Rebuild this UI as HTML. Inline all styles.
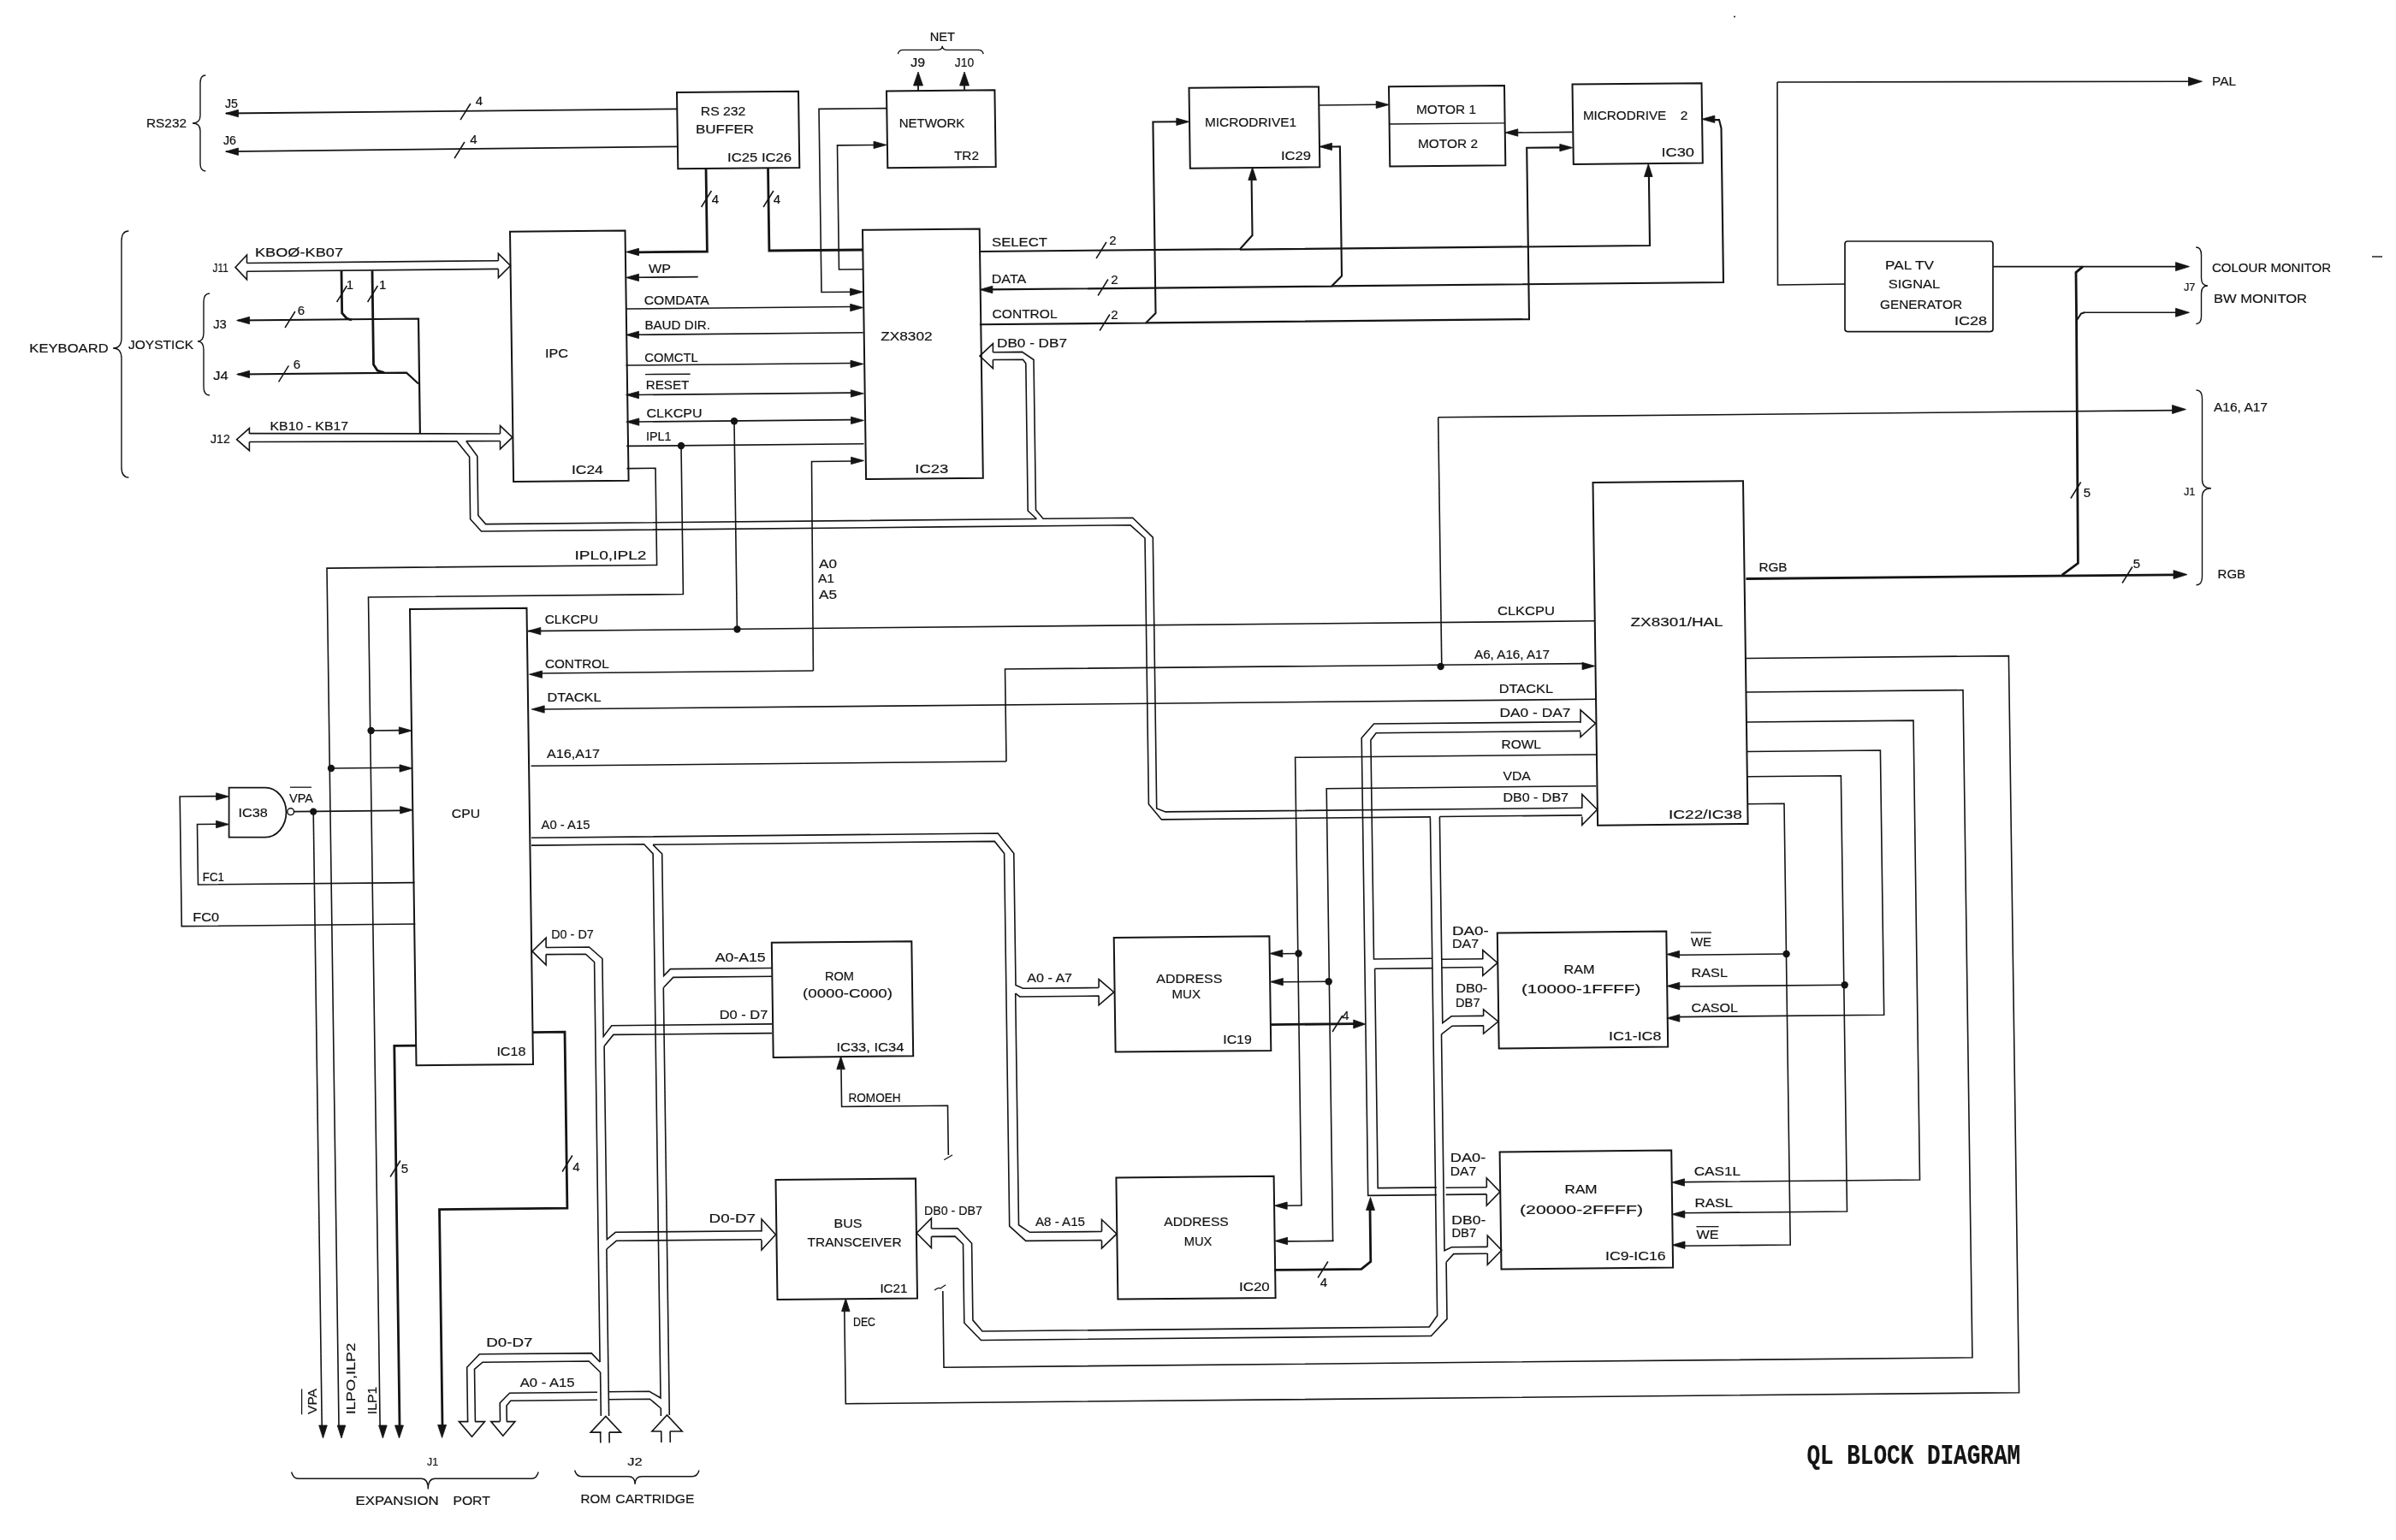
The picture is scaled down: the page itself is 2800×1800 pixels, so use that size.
<!DOCTYPE html>
<html><head><meta charset="utf-8"><title>QL Block Diagram</title>
<style>
html,body{margin:0;padding:0;background:#fff;}
body{width:2800px;height:1800px;overflow:hidden;}
svg{display:block;}
text{font-family:"Liberation Sans",sans-serif;fill:#141414;stroke:#141414;stroke-width:0.2px;}
svg{will-change:transform;}
</style></head><body>
<svg width="2800" height="1800" viewBox="0 0 2800 1800">
<rect width="2800" height="1800" fill="#fff"/>
<path d="M240.3,88 Q234,88 234,97 L234,135 Q234,144 225,144 Q234,144 234,153 L234,191 Q234,200 240.3,200" fill="none" stroke="#141414" stroke-width="1.4"/>
<text x="194.5" y="149.2" font-size="15" text-anchor="middle" textLength="47" lengthAdjust="spacingAndGlyphs">RS232</text>
<text x="270.5" y="126.3" font-size="15.5" text-anchor="middle" textLength="15" lengthAdjust="spacingAndGlyphs">J5</text>
<text x="268.5" y="168.9" font-size="15.5" text-anchor="middle" textLength="15" lengthAdjust="spacingAndGlyphs">J6</text>
<polyline points="264,132.5 791,127.3" fill="none" stroke="#141414" stroke-width="1.8" stroke-linejoin="miter"/>
<polygon points="263.5,132.5 278.5,128.3 278.5,136.7" fill="#141414" stroke="#141414" stroke-width="0.8"/>
<polyline points="264,177.2 791,171.3" fill="none" stroke="#141414" stroke-width="1.8" stroke-linejoin="miter"/>
<polygon points="263.5,177.2 278.5,173 278.5,181.4" fill="#141414" stroke="#141414" stroke-width="0.8"/>
<polyline points="538.1,140 549.9,121" fill="none" stroke="#141414" stroke-width="1.5" stroke-linejoin="miter"/>
<text x="560" y="122.7" font-size="15" text-anchor="middle">4</text>
<polyline points="531.1,185 542.9,166" fill="none" stroke="#141414" stroke-width="1.5" stroke-linejoin="miter"/>
<text x="553.5" y="168.2" font-size="15" text-anchor="middle">4</text>
<path d="M150.4,270 Q142,270 142,282 L142,395 Q142,407 132,407 Q142,407 142,419 L142,546 Q142,558 150.4,558" fill="none" stroke="#141414" stroke-width="1.4"/>
<text x="80.5" y="412.3" font-size="15.5" text-anchor="middle" textLength="92.3" lengthAdjust="spacingAndGlyphs">KEYBOARD</text>
<path d="M245,343 Q238,343 238,353 L238,389 Q238,399 231,399 Q238,399 238,409 L238,452 Q238,462 245,462" fill="none" stroke="#141414" stroke-width="1.4"/>
<text x="188" y="408.3" font-size="15.5" text-anchor="middle" textLength="76" lengthAdjust="spacingAndGlyphs">JOYSTICK</text>
<text x="257.7" y="318.3" font-size="15.5" text-anchor="middle" textLength="18.3" lengthAdjust="spacingAndGlyphs">J11</text>
<text x="349.5" y="299.8" font-size="15.5" text-anchor="middle" textLength="103" lengthAdjust="spacingAndGlyphs">KBOØ-KB07</text>
<polyline points="288.5,307.5 582.4,304.7" fill="none" stroke="#141414" stroke-width="1.6" stroke-linejoin="miter"/>
<polyline points="288.5,317.2 582.4,314.4" fill="none" stroke="#141414" stroke-width="1.6" stroke-linejoin="miter"/>
<polyline points="288.5,307.5 288.5,298 275,312.4 288.5,326.7 288.5,317.2" fill="none" stroke="#141414" stroke-width="1.6" stroke-linejoin="miter"/>
<polyline points="582.4,304.7 582.4,296.5 596.5,310.5 582.4,324.5 582.4,314.4" fill="none" stroke="#141414" stroke-width="1.6" stroke-linejoin="miter"/>
<polyline points="399,317 399.7,366 405,372 411,374" fill="none" stroke="#141414" stroke-width="2.8" stroke-linejoin="miter"/>
<polyline points="393.6,353 405.4,334" fill="none" stroke="#141414" stroke-width="1.5" stroke-linejoin="miter"/>
<text x="409" y="338.2" font-size="15" text-anchor="middle">1</text>
<polyline points="435,316.5 436.5,426 441,433 449,435.5" fill="none" stroke="#141414" stroke-width="2.8" stroke-linejoin="miter"/>
<polyline points="429.6,353 441.4,334" fill="none" stroke="#141414" stroke-width="1.5" stroke-linejoin="miter"/>
<text x="447.2" y="338.2" font-size="15" text-anchor="middle">1</text>
<text x="257" y="383.8" font-size="15.5" text-anchor="middle" textLength="15.6" lengthAdjust="spacingAndGlyphs">J3</text>
<text x="258" y="443.5" font-size="15.5" text-anchor="middle" textLength="17.5" lengthAdjust="spacingAndGlyphs">J4</text>
<polyline points="278,374.5 489,372.5 490.9,507" fill="none" stroke="#141414" stroke-width="2.2" stroke-linejoin="miter"/>
<polygon points="276.6,374.5 291.6,370.3 291.6,378.7" fill="#141414" stroke="#141414" stroke-width="0.8"/>
<polyline points="278,437.5 475,435.6 489,448.5" fill="none" stroke="#141414" stroke-width="2.2" stroke-linejoin="miter"/>
<polygon points="276.6,437.5 291.6,433.3 291.6,441.7" fill="#141414" stroke="#141414" stroke-width="0.8"/>
<polyline points="333.1,383 344.9,364" fill="none" stroke="#141414" stroke-width="1.5" stroke-linejoin="miter"/>
<text x="352" y="368.1" font-size="15" text-anchor="middle">6</text>
<polyline points="325.6,446.3 337.4,427.3" fill="none" stroke="#141414" stroke-width="1.5" stroke-linejoin="miter"/>
<text x="347" y="430.6" font-size="15" text-anchor="middle">6</text>
<text x="257.4" y="517.6" font-size="15.5" text-anchor="middle" textLength="22.8" lengthAdjust="spacingAndGlyphs">J12</text>
<text x="361.3" y="502.8" font-size="15.5" text-anchor="middle" textLength="91.5" lengthAdjust="spacingAndGlyphs">KB10 - KB17</text>
<polyline points="291.4,506.6 584.5,507" fill="none" stroke="#141414" stroke-width="1.6" stroke-linejoin="miter"/>
<polyline points="291.4,516.5 533.8,515.8 548.6,534 549.6,606.7 562.5,621 1100,615.9 1321,613.8 1338,629 1342.4,940 1357.4,957.9 1672,954.9" fill="none" stroke="#141414" stroke-width="1.6" stroke-linejoin="miter"/>
<polyline points="544.8,515.6 584.5,515.5" fill="none" stroke="#141414" stroke-width="1.6" stroke-linejoin="miter"/>
<polyline points="544.8,515.6 557.8,533.2 558.8,602.5 567.6,612.6 1211.4,606.5" fill="none" stroke="#141414" stroke-width="1.6" stroke-linejoin="miter"/>
<polyline points="291.4,507 291.4,500.6 276.6,513.7 291.4,526.7 291.4,516.5" fill="none" stroke="#141414" stroke-width="1.6" stroke-linejoin="miter"/>
<polyline points="584.5,507 584.5,497.7 598.8,511.2 584.5,524.8 584.5,515.5" fill="none" stroke="#141414" stroke-width="1.6" stroke-linejoin="miter"/>
<polygon points="596,270.7 730.5,269.4 734.6,561.7 600.1,563" fill="none" stroke="#141414" stroke-width="2" stroke-linejoin="miter"/>
<text x="650.5" y="418.3" font-size="15.5" text-anchor="middle" textLength="27" lengthAdjust="spacingAndGlyphs">IPC</text>
<text x="686.4" y="554.3" font-size="15.5" text-anchor="middle" textLength="36.7" lengthAdjust="spacingAndGlyphs">IC24</text>
<polygon points="791,108 933,106.7 934.3,196 792.3,197.3" fill="none" stroke="#141414" stroke-width="2" stroke-linejoin="miter"/>
<text x="845.1" y="135.4" font-size="15.5" text-anchor="middle" textLength="52.6" lengthAdjust="spacingAndGlyphs">RS 232</text>
<text x="847" y="156.3" font-size="15.5" text-anchor="middle" textLength="68" lengthAdjust="spacingAndGlyphs">BUFFER</text>
<text x="887.6" y="188.8" font-size="15.5" text-anchor="middle" textLength="75" lengthAdjust="spacingAndGlyphs">IC25 IC26</text>
<polyline points="825,196 826.4,294 745,294.8" fill="none" stroke="#141414" stroke-width="2.8" stroke-linejoin="miter"/>
<polygon points="731.5,294.5 746.5,290.3 746.5,298.7" fill="#141414" stroke="#141414" stroke-width="0.8"/>
<polyline points="819.6,242 831.4,223" fill="none" stroke="#141414" stroke-width="1.5" stroke-linejoin="miter"/>
<text x="836" y="238.4" font-size="15" text-anchor="middle">4</text>
<polyline points="897.5,196 898.9,293 1008.5,292" fill="none" stroke="#141414" stroke-width="2.8" stroke-linejoin="miter"/>
<polyline points="892.1,242 903.9,223" fill="none" stroke="#141414" stroke-width="1.5" stroke-linejoin="miter"/>
<text x="907.8" y="238.4" font-size="15" text-anchor="middle">4</text>
<polygon points="1036,106.4 1162.4,105.2 1163.7,195 1037.3,196.2" fill="none" stroke="#141414" stroke-width="2" stroke-linejoin="miter"/>
<text x="1089" y="148.9" font-size="15.5" text-anchor="middle" textLength="76.7" lengthAdjust="spacingAndGlyphs">NETWORK</text>
<text x="1129.5" y="186.8" font-size="15.5" text-anchor="middle" textLength="29" lengthAdjust="spacingAndGlyphs">TR2</text>
<polyline points="1073,106 1073,95" fill="none" stroke="#141414" stroke-width="1.8" stroke-linejoin="miter"/>
<polygon points="1073,84 1067.5,100 1078.5,100" fill="#141414" stroke="#141414" stroke-width="0.8"/>
<polyline points="1127,106 1127,95" fill="none" stroke="#141414" stroke-width="1.8" stroke-linejoin="miter"/>
<polygon points="1127,84 1121.5,100 1132.5,100" fill="#141414" stroke="#141414" stroke-width="0.8"/>
<text x="1072.6" y="78" font-size="14" text-anchor="middle" textLength="16.8" lengthAdjust="spacingAndGlyphs">J9</text>
<text x="1127" y="78" font-size="14" text-anchor="middle" textLength="22.3" lengthAdjust="spacingAndGlyphs">J10</text>
<path d="M1049.4,63.1 Q1050.4,58.4 1055.4,58.4 L1095.2,58.4 Q1101.2,58.4 1101.2,53.8 Q1101.2,58.4 1107.2,58.4 L1143.2,58.4 Q1148.2,58.4 1149.2,63.1" fill="none" stroke="#141414" stroke-width="1.4"/>
<text x="1101.4" y="47.6" font-size="14" text-anchor="middle" textLength="29.2" lengthAdjust="spacingAndGlyphs">NET</text>
<polyline points="1036,126.6 957,127.4 960,341.5 995,341.2" fill="none" stroke="#141414" stroke-width="1.6" stroke-linejoin="miter"/>
<polygon points="1008.5,341.2 993.5,337 993.5,345.4" fill="#141414" stroke="#141414" stroke-width="0.8"/>
<polyline points="1024,169.5 978.5,169.9 980.5,315 1008.5,314.7" fill="none" stroke="#141414" stroke-width="1.6" stroke-linejoin="miter"/>
<polygon points="1036,169.4 1021,165.2 1021,173.6" fill="#141414" stroke="#141414" stroke-width="0.8"/>
<polygon points="1008,268.8 1144.7,267.5 1148.8,558.8 1012.1,560.1" fill="none" stroke="#141414" stroke-width="2" stroke-linejoin="miter"/>
<text x="1059.4" y="397.6" font-size="15.5" text-anchor="middle" textLength="60.4" lengthAdjust="spacingAndGlyphs">ZX8302</text>
<text x="1088.8" y="553.4" font-size="15.5" text-anchor="middle" textLength="39" lengthAdjust="spacingAndGlyphs">IC23</text>
<polyline points="745,324.3 815.7,323.6" fill="none" stroke="#141414" stroke-width="1.6" stroke-linejoin="miter"/>
<polygon points="731.5,324.4 746.5,320.2 746.5,328.6" fill="#141414" stroke="#141414" stroke-width="0.8"/>
<text x="771" y="318.8" font-size="15.5" text-anchor="middle" textLength="26" lengthAdjust="spacingAndGlyphs">WP</text>
<polyline points="731.5,361 995,358.5" fill="none" stroke="#141414" stroke-width="1.6" stroke-linejoin="miter"/>
<polygon points="1008.7,359.5 993.7,355.3 993.7,363.7" fill="#141414" stroke="#141414" stroke-width="0.8"/>
<text x="790.7" y="355.6" font-size="15.5" text-anchor="middle" textLength="76" lengthAdjust="spacingAndGlyphs">COMDATA</text>
<polyline points="745,391.3 1008.7,388.8" fill="none" stroke="#141414" stroke-width="1.6" stroke-linejoin="miter"/>
<polygon points="731.5,391.4 746.5,387.2 746.5,395.6" fill="#141414" stroke="#141414" stroke-width="0.8"/>
<text x="791.7" y="384.8" font-size="15.5" text-anchor="middle" textLength="76.6" lengthAdjust="spacingAndGlyphs">BAUD DIR.</text>
<polyline points="731.5,427 995,424.5" fill="none" stroke="#141414" stroke-width="1.6" stroke-linejoin="miter"/>
<polygon points="1009,425.4 994,421.2 994,429.6" fill="#141414" stroke="#141414" stroke-width="0.8"/>
<text x="784.5" y="422.7" font-size="15.5" text-anchor="middle" textLength="62.3" lengthAdjust="spacingAndGlyphs">COMCTL</text>
<polyline points="745,461.5 995,459.1" fill="none" stroke="#141414" stroke-width="1.6" stroke-linejoin="miter"/>
<polygon points="731.5,461.6 746.5,457.4 746.5,465.8" fill="#141414" stroke="#141414" stroke-width="0.8"/>
<polygon points="1009.3,459.9 994.3,455.7 994.3,464.1" fill="#141414" stroke="#141414" stroke-width="0.8"/>
<text x="780" y="454.7" font-size="15.5" text-anchor="middle" textLength="50.6" lengthAdjust="spacingAndGlyphs">RESET</text>
<polyline points="754,437.6 806.6,437.2" fill="none" stroke="#141414" stroke-width="1.4" stroke-linejoin="miter"/>
<polyline points="745,493 995,490.6" fill="none" stroke="#141414" stroke-width="1.6" stroke-linejoin="miter"/>
<polygon points="731.8,493.1 746.8,488.9 746.8,497.3" fill="#141414" stroke="#141414" stroke-width="0.8"/>
<polygon points="1009.5,491.4 994.5,487.2 994.5,495.6" fill="#141414" stroke="#141414" stroke-width="0.8"/>
<text x="788" y="488.3" font-size="15.5" text-anchor="middle" textLength="65" lengthAdjust="spacingAndGlyphs">CLKCPU</text>
<circle cx="858" cy="492.2" r="4.2" fill="#141414"/>
<polyline points="732.2,521.4 1009.5,518.8" fill="none" stroke="#141414" stroke-width="1.6" stroke-linejoin="miter"/>
<text x="769.8" y="514.9" font-size="15.5" text-anchor="middle" textLength="29.6" lengthAdjust="spacingAndGlyphs">IPL1</text>
<circle cx="796" cy="521" r="4.2" fill="#141414"/>
<polyline points="950.4,784 948.5,539.5 996,539" fill="none" stroke="#141414" stroke-width="1.6" stroke-linejoin="miter"/>
<polygon points="1009.6,538.4 994.6,534.2 994.6,542.6" fill="#141414" stroke="#141414" stroke-width="0.8"/>
<polyline points="732.5,547.6 766,547.3 767.6,660.4 382,664.1 396,1666" fill="none" stroke="#141414" stroke-width="1.6" stroke-linejoin="miter"/>
<polygon points="399,1681 394.2,1666 403.8,1666" fill="#141414" stroke="#141414" stroke-width="0.8"/>
<text x="713.5" y="653.8" font-size="15.5" text-anchor="middle" textLength="84" lengthAdjust="spacingAndGlyphs">IPL0,IPL2</text>
<polyline points="796,521 798.4,694.5 430.5,698 444.1,1666" fill="none" stroke="#141414" stroke-width="1.6" stroke-linejoin="miter"/>
<polygon points="447.4,1681 442.6,1666 452.2,1666" fill="#141414" stroke="#141414" stroke-width="0.8"/>
<polyline points="858,492.2 861.4,735.5" fill="none" stroke="#141414" stroke-width="1.6" stroke-linejoin="miter"/>
<circle cx="861.5" cy="735.5" r="4.2" fill="#141414"/>
<polyline points="1144.7,294 1449,291.1 1463.5,275 1462.6,210" fill="none" stroke="#141414" stroke-width="2.1" stroke-linejoin="miter"/>
<polygon points="1463.6,195.5 1458.8,210.5 1468.4,210.5" fill="#141414" stroke="#141414" stroke-width="0.8"/>
<polyline points="1449,291.6 1928,287 1926.9,206" fill="none" stroke="#141414" stroke-width="2.1" stroke-linejoin="miter"/>
<polygon points="1926.3,191.5 1921.5,206.5 1931.1,206.5" fill="#141414" stroke="#141414" stroke-width="0.8"/>
<text x="1191.5" y="288.3" font-size="15.5" text-anchor="middle" textLength="65" lengthAdjust="spacingAndGlyphs">SELECT</text>
<polyline points="1281.1,302 1292.9,283" fill="none" stroke="#141414" stroke-width="1.5" stroke-linejoin="miter"/>
<text x="1300.5" y="286.2" font-size="15" text-anchor="middle">2</text>
<polyline points="1158,338.4 1556,334.6 1568,322.5 1565.9,171.4 1555,171.5" fill="none" stroke="#141414" stroke-width="2.1" stroke-linejoin="miter"/>
<polygon points="1541.5,171.4 1556.5,167.2 1556.5,175.6" fill="#141414" stroke="#141414" stroke-width="0.8"/>
<polygon points="1144.9,338.5 1159.9,334.3 1159.9,342.7" fill="#141414" stroke="#141414" stroke-width="0.8"/>
<polyline points="1556,334.4 2014,330 2011.5,150 2009,140 2002,140.1" fill="none" stroke="#141414" stroke-width="2.1" stroke-linejoin="miter"/>
<polygon points="1988.8,139.3 2003.8,135.1 2003.8,143.5" fill="#141414" stroke="#141414" stroke-width="0.8"/>
<text x="1179" y="331.3" font-size="15.5" text-anchor="middle" textLength="40.5" lengthAdjust="spacingAndGlyphs">DATA</text>
<polyline points="1283.1,345.5 1294.9,326.5" fill="none" stroke="#141414" stroke-width="1.5" stroke-linejoin="miter"/>
<text x="1302.5" y="332.2" font-size="15" text-anchor="middle">2</text>
<polyline points="1144.8,379.3 1339,377.5 1350.5,366 1347.4,142.5 1376,142.2" fill="none" stroke="#141414" stroke-width="2.1" stroke-linejoin="miter"/>
<polygon points="1389.8,142.3 1374.8,138.1 1374.8,146.5" fill="#141414" stroke="#141414" stroke-width="0.8"/>
<polyline points="1339,377.4 1787,373.1 1784.2,172.8 1824,172.4" fill="none" stroke="#141414" stroke-width="2.1" stroke-linejoin="miter"/>
<polygon points="1837.8,172.6 1822.8,168.4 1822.8,176.8" fill="#141414" stroke="#141414" stroke-width="0.8"/>
<text x="1197.6" y="372.3" font-size="15.5" text-anchor="middle" textLength="76" lengthAdjust="spacingAndGlyphs">CONTROL</text>
<polyline points="1285.1,386.5 1296.9,367.5" fill="none" stroke="#141414" stroke-width="1.5" stroke-linejoin="miter"/>
<text x="1302.5" y="373.2" font-size="15" text-anchor="middle">2</text>
<polyline points="1160.4,411.7 1160.4,401.6 1145,416.1 1160.4,430.6 1160.4,420.5" fill="none" stroke="#141414" stroke-width="1.6" stroke-linejoin="miter"/>
<polyline points="1160.4,411.7 1194.5,411.4 1208,420.5 1210.5,596 1219,606.2 1323.7,605.2 1347.3,628.2 1351.7,945 1362,948.9 1848.8,944.3" fill="none" stroke="#141414" stroke-width="1.6" stroke-linejoin="miter"/>
<polyline points="1160.4,420.5 1195.4,420.2 1198.8,424.7 1201.2,597 1211.4,606.5" fill="none" stroke="#141414" stroke-width="1.6" stroke-linejoin="miter"/>
<text x="1206" y="406.3" font-size="15.5" text-anchor="middle" textLength="82" lengthAdjust="spacingAndGlyphs">DB0 - DB7</text>
<polygon points="1389.5,102.8 1541,101.4 1542.3,195.3 1390.8,196.7" fill="none" stroke="#141414" stroke-width="2" stroke-linejoin="miter"/>
<text x="1461.5" y="148.3" font-size="15.5" text-anchor="middle" textLength="107" lengthAdjust="spacingAndGlyphs">MICRODRIVE1</text>
<text x="1514.5" y="187.3" font-size="15.5" text-anchor="middle" textLength="35" lengthAdjust="spacingAndGlyphs">IC29</text>
<polyline points="1541,123 1610,122.3" fill="none" stroke="#141414" stroke-width="1.6" stroke-linejoin="miter"/>
<polygon points="1623.2,122.4 1608.2,118.2 1608.2,126.6" fill="#141414" stroke="#141414" stroke-width="0.8"/>
<polygon points="1623,101.2 1758,99.9 1759.3,193.2 1624.3,194.5" fill="none" stroke="#141414" stroke-width="2" stroke-linejoin="miter"/>
<polyline points="1623.7,145 1758.6,143.9" fill="none" stroke="#141414" stroke-width="1.4" stroke-linejoin="miter"/>
<text x="1690" y="133.3" font-size="15.5" text-anchor="middle" textLength="70" lengthAdjust="spacingAndGlyphs">MOTOR 1</text>
<text x="1692" y="172.8" font-size="15.5" text-anchor="middle" textLength="70" lengthAdjust="spacingAndGlyphs">MOTOR 2</text>
<polyline points="1837.5,154.4 1771,155" fill="none" stroke="#141414" stroke-width="1.6" stroke-linejoin="miter"/>
<polygon points="1758.8,155 1773.8,150.8 1773.8,159.2" fill="#141414" stroke="#141414" stroke-width="0.8"/>
<polygon points="1837.5,98.6 1988.5,97.2 1989.8,190.6 1838.8,192" fill="none" stroke="#141414" stroke-width="2" stroke-linejoin="miter"/>
<text x="1898.6" y="140.3" font-size="15.5" text-anchor="middle" textLength="97.3" lengthAdjust="spacingAndGlyphs">MICRODRIVE</text>
<text x="1968" y="140.3" font-size="15.5" text-anchor="middle">2</text>
<text x="1960.7" y="183.3" font-size="15.5" text-anchor="middle" textLength="38.5" lengthAdjust="spacingAndGlyphs">IC30</text>
<polyline points="2077,96 2558,95.2" fill="none" stroke="#141414" stroke-width="1.6" stroke-linejoin="miter"/>
<polygon points="2573.5,95.2 2557.5,90.2 2557.5,100.2" fill="#141414" stroke="#141414" stroke-width="0.8"/>
<polyline points="2077,96 2077.5,333 2156,332" fill="none" stroke="#141414" stroke-width="1.6" stroke-linejoin="miter"/>
<text x="2599" y="100.3" font-size="15.5" text-anchor="middle" textLength="28" lengthAdjust="spacingAndGlyphs">PAL</text>
<rect x="2156" y="282" width="173" height="105.6" rx="3" fill="none" stroke="#141414" stroke-width="1.7"/>
<text x="2231.5" y="315.3" font-size="15.5" text-anchor="middle" textLength="57" lengthAdjust="spacingAndGlyphs">PAL TV</text>
<text x="2237" y="337.3" font-size="15.5" text-anchor="middle" textLength="60.5" lengthAdjust="spacingAndGlyphs">SIGNAL</text>
<text x="2245" y="361.3" font-size="15.5" text-anchor="middle" textLength="96" lengthAdjust="spacingAndGlyphs">GENERATOR</text>
<text x="2303" y="380.3" font-size="15.5" text-anchor="middle" textLength="38" lengthAdjust="spacingAndGlyphs">IC28</text>
<polyline points="2329.5,311.6 2543,311.6" fill="none" stroke="#141414" stroke-width="1.6" stroke-linejoin="miter"/>
<polygon points="2558.5,311.6 2542.5,306.6 2542.5,316.6" fill="#141414" stroke="#141414" stroke-width="0.8"/>
<polyline points="2435,365.3 2543,365.3" fill="none" stroke="#141414" stroke-width="1.6" stroke-linejoin="miter"/>
<polygon points="2558.5,365.3 2542.5,360.3 2542.5,370.3" fill="#141414" stroke="#141414" stroke-width="0.8"/>
<text x="2654.5" y="318.3" font-size="15.5" text-anchor="middle" textLength="139" lengthAdjust="spacingAndGlyphs">COLOUR MONITOR</text>
<text x="2641.5" y="354.3" font-size="15.5" text-anchor="middle" textLength="109" lengthAdjust="spacingAndGlyphs">BW MONITOR</text>
<path d="M2566.2,289 Q2572.5,289 2572.5,298 L2572.5,325 Q2572.5,334 2580,334 Q2572.5,334 2572.5,343 L2572.5,369.6 Q2572.5,378.6 2566.2,378.6" fill="none" stroke="#141414" stroke-width="1.4"/>
<text x="2558.7" y="340.1" font-size="12" text-anchor="middle" textLength="13.5" lengthAdjust="spacingAndGlyphs">J7</text>
<polyline points="2434,311.6 2426,318.5 2426.5,366 2428.4,658.4 2409.7,672.2" fill="none" stroke="#141414" stroke-width="2.8" stroke-linejoin="miter"/>
<polyline points="2426.5,375 2432,366.5 2436,365.3" fill="none" stroke="#141414" stroke-width="2" stroke-linejoin="miter"/>
<polyline points="2419.9,582.5 2431.7,563.5" fill="none" stroke="#141414" stroke-width="1.5" stroke-linejoin="miter"/>
<text x="2439" y="580.6" font-size="15" text-anchor="middle">5</text>
<polyline points="1680.7,487.8 2540,479.6" fill="none" stroke="#141414" stroke-width="1.6" stroke-linejoin="miter"/>
<polygon points="2554.5,478.5 2538.5,473.5 2538.5,483.5" fill="#141414" stroke="#141414" stroke-width="0.8"/>
<text x="2618.5" y="481.3" font-size="15.5" text-anchor="middle" textLength="63" lengthAdjust="spacingAndGlyphs">A16, A17</text>
<path d="M2566.5,456 Q2573.5,456 2573.5,466 L2573.5,560.7 Q2573.5,570.7 2584,570.7 Q2573.5,570.7 2573.5,580.7 L2573.5,673.7 Q2573.5,683.7 2566.5,683.7" fill="none" stroke="#141414" stroke-width="1.4"/>
<text x="2558.7" y="578.7" font-size="12" text-anchor="middle" textLength="13.5" lengthAdjust="spacingAndGlyphs">J1</text>
<polyline points="2040.5,676.5 2540,671.8" fill="none" stroke="#141414" stroke-width="2.8" stroke-linejoin="miter"/>
<polygon points="2556,671.6 2540,666.6 2540,676.6" fill="#141414" stroke="#141414" stroke-width="0.8"/>
<polyline points="2480.1,681.5 2491.9,662.5" fill="none" stroke="#141414" stroke-width="1.5" stroke-linejoin="miter"/>
<text x="2497" y="663.6" font-size="15" text-anchor="middle">5</text>
<text x="2607.8" y="676.3" font-size="15.5" text-anchor="middle" textLength="32.4" lengthAdjust="spacingAndGlyphs">RGB</text>
<text x="2072" y="667.8" font-size="15.5" text-anchor="middle" textLength="33.2" lengthAdjust="spacingAndGlyphs">RGB</text>
<polyline points="2772,300 2784,300" fill="none" stroke="#141414" stroke-width="1.4" stroke-linejoin="miter"/>
<polygon points="1861.5,564 2037,562.3 2042.6,963 1867.1,964.7" fill="none" stroke="#141414" stroke-width="2" stroke-linejoin="miter"/>
<text x="1959.6" y="731.9" font-size="15.5" text-anchor="middle" textLength="108" lengthAdjust="spacingAndGlyphs">ZX8301/HAL</text>
<text x="1992.9" y="957.1" font-size="15.5" text-anchor="middle" textLength="85.8" lengthAdjust="spacingAndGlyphs">IC22/IC38</text>
<text x="1783.5" y="719.3" font-size="15.5" text-anchor="middle" textLength="67" lengthAdjust="spacingAndGlyphs">CLKCPU</text>
<polyline points="617,737.6 1863.5,725.8" fill="none" stroke="#141414" stroke-width="1.6" stroke-linejoin="miter"/>
<polygon points="616.8,737.6 631.8,733.4 631.8,741.8" fill="#141414" stroke="#141414" stroke-width="0.8"/>
<text x="1767" y="770.1" font-size="15.5" text-anchor="middle" textLength="88" lengthAdjust="spacingAndGlyphs">A6, A16, A17</text>
<polyline points="1176,890 1174.5,782 1850,775.6" fill="none" stroke="#141414" stroke-width="1.6" stroke-linejoin="miter"/>
<polygon points="1864,778.5 1849,774.3 1849,782.7" fill="#141414" stroke="#141414" stroke-width="0.8"/>
<circle cx="1683.6" cy="779" r="4.2" fill="#141414"/>
<polyline points="1680.7,487.8 1684.8,779" fill="none" stroke="#141414" stroke-width="1.6" stroke-linejoin="miter"/>
<text x="1783.4" y="809.8" font-size="15.5" text-anchor="middle" textLength="63.2" lengthAdjust="spacingAndGlyphs">DTACKL</text>
<polyline points="635,829 1864.5,817.3" fill="none" stroke="#141414" stroke-width="1.6" stroke-linejoin="miter"/>
<polygon points="621.2,829 636.2,824.8 636.2,833.2" fill="#141414" stroke="#141414" stroke-width="0.8"/>
<text x="1794" y="837.9" font-size="15.5" text-anchor="middle" textLength="83" lengthAdjust="spacingAndGlyphs">DA0 - DA7</text>
<polyline points="1847,845 1847,829.8 1864.6,845.6 1847,861.5 1847,855.6" fill="none" stroke="#141414" stroke-width="1.6" stroke-linejoin="miter"/>
<polyline points="1847,843.7 1605.6,846 1591.2,862.5 1598.7,1397.4 1678.8,1396.6" fill="none" stroke="#141414" stroke-width="1.6" stroke-linejoin="miter"/>
<polyline points="1847,854.4 1608.1,856.7 1601.9,865 1605.5,1121 1674,1120.3" fill="none" stroke="#141414" stroke-width="1.6" stroke-linejoin="miter"/>
<text x="1777.7" y="875.3" font-size="15.5" text-anchor="middle" textLength="46.5" lengthAdjust="spacingAndGlyphs">ROWL</text>
<polyline points="1865,882 1513.6,885.3 1520.9,1409" fill="none" stroke="#141414" stroke-width="1.6" stroke-linejoin="miter"/>
<text x="1772.6" y="911.9" font-size="15.5" text-anchor="middle" textLength="32.4" lengthAdjust="spacingAndGlyphs">VDA</text>
<polyline points="1865.3,918.7 1550.2,921.7 1557.6,1450.4" fill="none" stroke="#141414" stroke-width="1.6" stroke-linejoin="miter"/>
<text x="1794.7" y="937.3" font-size="15.5" text-anchor="middle" textLength="76.6" lengthAdjust="spacingAndGlyphs">DB0 - DB7</text>
<polyline points="1848.8,944.8 1848.8,928.4 1866.5,946.3 1848.8,964.2 1848.8,954.5" fill="none" stroke="#141414" stroke-width="1.6" stroke-linejoin="miter"/>
<polyline points="2040.3,769.5 2347.4,766.6 2359.5,1627.7 988.3,1640.7 986.8,1532" fill="none" stroke="#141414" stroke-width="1.6" stroke-linejoin="miter"/>
<polygon points="988.3,1517.8 983.5,1532.8 993.1,1532.8" fill="#141414" stroke="#141414" stroke-width="0.8"/>
<polyline points="2040.6,809 2294,806.6 2304.9,1586.8 1103,1598.2 1101.8,1509" fill="none" stroke="#141414" stroke-width="1.6" stroke-linejoin="miter"/>
<polyline points="2041,844 2236,842.1 2243.5,1379 1967,1381.6" fill="none" stroke="#141414" stroke-width="1.6" stroke-linejoin="miter"/>
<polygon points="1953.5,1382 1968.5,1377.8 1968.5,1386.2" fill="#141414" stroke="#141414" stroke-width="0.8"/>
<polyline points="2041.3,878.5 2197.4,877 2201.7,1186.3 1961,1188.6" fill="none" stroke="#141414" stroke-width="1.6" stroke-linejoin="miter"/>
<polygon points="1947.8,1190 1962.8,1185.8 1962.8,1194.2" fill="#141414" stroke="#141414" stroke-width="0.8"/>
<polyline points="2041.6,907.8 2151.4,906.8 2158.5,1416 1967,1417.8" fill="none" stroke="#141414" stroke-width="1.6" stroke-linejoin="miter"/>
<polygon points="1953.8,1419.3 1968.8,1415.1 1968.8,1423.5" fill="#141414" stroke="#141414" stroke-width="0.8"/>
<polyline points="2042,939.7 2085,939.3 2092.2,1455 1967,1456.2" fill="none" stroke="#141414" stroke-width="1.6" stroke-linejoin="miter"/>
<polygon points="1954,1455.2 1969,1451 1969,1459.4" fill="#141414" stroke="#141414" stroke-width="0.8"/>
<polyline points="2087.6,1115 1961,1116.2" fill="none" stroke="#141414" stroke-width="1.6" stroke-linejoin="miter"/>
<polygon points="1947.6,1115.5 1962.6,1111.3 1962.6,1119.7" fill="#141414" stroke="#141414" stroke-width="0.8"/>
<circle cx="2087.6" cy="1115" r="4.2" fill="#141414"/>
<polyline points="2155.7,1151.2 1961,1153" fill="none" stroke="#141414" stroke-width="1.6" stroke-linejoin="miter"/>
<polygon points="1947.8,1152.5 1962.8,1148.3 1962.8,1156.7" fill="#141414" stroke="#141414" stroke-width="0.8"/>
<circle cx="2155.7" cy="1151.2" r="4.2" fill="#141414"/>
<polygon points="479,712 615.5,710.7 623,1244 486.5,1245.3" fill="none" stroke="#141414" stroke-width="2" stroke-linejoin="miter"/>
<text x="544.4" y="955.9" font-size="15.5" text-anchor="middle" textLength="33.2" lengthAdjust="spacingAndGlyphs">CPU</text>
<text x="597.4" y="1233.7" font-size="15.5" text-anchor="middle" textLength="34" lengthAdjust="spacingAndGlyphs">IC18</text>
<text x="668" y="729.3" font-size="15.5" text-anchor="middle" textLength="62.5" lengthAdjust="spacingAndGlyphs">CLKCPU</text>
<text x="674.3" y="781.3" font-size="15.5" text-anchor="middle" textLength="74.7" lengthAdjust="spacingAndGlyphs">CONTROL</text>
<polyline points="950.4,784 632,787" fill="none" stroke="#141414" stroke-width="1.6" stroke-linejoin="miter"/>
<polygon points="618.5,788.2 633.5,784 633.5,792.4" fill="#141414" stroke="#141414" stroke-width="0.8"/>
<text x="967.5" y="663.7" font-size="15.5" text-anchor="middle" textLength="21" lengthAdjust="spacingAndGlyphs">A0</text>
<text x="965.5" y="680.8" font-size="15.5" text-anchor="middle">A1</text>
<text x="967.5" y="699.6" font-size="15.5" text-anchor="middle" textLength="21" lengthAdjust="spacingAndGlyphs">A5</text>
<text x="671" y="820.3" font-size="15.5" text-anchor="middle" textLength="63" lengthAdjust="spacingAndGlyphs">DTACKL</text>
<text x="670" y="886.3" font-size="15.5" text-anchor="middle" textLength="62" lengthAdjust="spacingAndGlyphs">A16,A17</text>
<polyline points="1176,890 620.5,895.3" fill="none" stroke="#141414" stroke-width="1.6" stroke-linejoin="miter"/>
<text x="661" y="968.8" font-size="15.5" text-anchor="middle" textLength="56.8" lengthAdjust="spacingAndGlyphs">A0 - A15</text>
<polyline points="430.5,854 468,853.6" fill="none" stroke="#141414" stroke-width="1.6" stroke-linejoin="miter"/>
<polygon points="481.3,854 466.3,849.8 466.3,858.2" fill="#141414" stroke="#141414" stroke-width="0.8"/>
<circle cx="433.6" cy="854" r="4.2" fill="#141414"/>
<polyline points="387,898 469,897.2" fill="none" stroke="#141414" stroke-width="1.6" stroke-linejoin="miter"/>
<polygon points="482,898 467,893.8 467,902.2" fill="#141414" stroke="#141414" stroke-width="0.8"/>
<circle cx="387" cy="898" r="4.2" fill="#141414"/>
<polyline points="343.6,948.6 469.5,947.4" fill="none" stroke="#141414" stroke-width="1.6" stroke-linejoin="miter"/>
<polygon points="482.6,946.8 467.6,942.6 467.6,951" fill="#141414" stroke="#141414" stroke-width="0.8"/>
<circle cx="366.2" cy="948.6" r="4.2" fill="#141414"/>
<polyline points="366.2,948.6 376.2,1666" fill="none" stroke="#141414" stroke-width="1.6" stroke-linejoin="miter"/>
<polygon points="377.5,1681 372.7,1666 382.3,1666" fill="#141414" stroke="#141414" stroke-width="0.8"/>
<path d="M267.6,920.6 L310,920.6 A24.5,29 0 0 1 310,978.6 L267.6,978.6 Z" fill="none" stroke="#141414" stroke-width="1.8"/>
<circle cx="339.7" cy="948.7" r="3.9" fill="#fff" stroke="#141414" stroke-width="1.5"/>
<text x="295.7" y="954.9" font-size="15.5" text-anchor="middle" textLength="34.3" lengthAdjust="spacingAndGlyphs">IC38</text>
<text x="352" y="937.6" font-size="15.5" text-anchor="middle" textLength="28" lengthAdjust="spacingAndGlyphs">VPA</text>
<polyline points="339,920.2 364,920.2" fill="none" stroke="#141414" stroke-width="1.3" stroke-linejoin="miter"/>
<polyline points="484.5,1031.6 231.5,1034 230.5,963.5 255,963.3" fill="none" stroke="#141414" stroke-width="1.6" stroke-linejoin="miter"/>
<polygon points="267.6,963.5 252.6,959.3 252.6,967.7" fill="#141414" stroke="#141414" stroke-width="0.8"/>
<polyline points="485.3,1080 212.3,1082.6 210.2,931 255,930.6" fill="none" stroke="#141414" stroke-width="1.6" stroke-linejoin="miter"/>
<polygon points="267.6,931 252.6,926.8 252.6,935.2" fill="#141414" stroke="#141414" stroke-width="0.8"/>
<text x="249.3" y="1029.5" font-size="15.5" text-anchor="middle" textLength="25" lengthAdjust="spacingAndGlyphs">FC1</text>
<text x="240.6" y="1077.3" font-size="15.5" text-anchor="middle" textLength="30.8" lengthAdjust="spacingAndGlyphs">FC0</text>
<polyline points="486.3,1222.2 460.8,1222.4 467,1666" fill="none" stroke="#141414" stroke-width="2.8" stroke-linejoin="miter"/>
<polygon points="466.5,1681 461.5,1666 471.5,1666" fill="#141414" stroke="#141414" stroke-width="0.8"/>
<polyline points="456.1,1375.5 467.9,1356.5" fill="none" stroke="#141414" stroke-width="1.5" stroke-linejoin="miter"/>
<text x="473" y="1370.7" font-size="15" text-anchor="middle">5</text>
<polyline points="622,1206.6 660,1206.2 662.9,1412.2 513.5,1413.6 517,1666" fill="none" stroke="#141414" stroke-width="2.8" stroke-linejoin="miter"/>
<polygon points="516.6,1680.5 511.6,1665.5 521.6,1665.5" fill="#141414" stroke="#141414" stroke-width="0.8"/>
<polyline points="657.1,1369.5 668.9,1350.5" fill="none" stroke="#141414" stroke-width="1.5" stroke-linejoin="miter"/>
<text x="673.5" y="1368.8" font-size="15" text-anchor="middle">4</text>
<text transform="translate(369.5,1638) rotate(-90)" x="0" y="0" font-size="15" text-anchor="middle" textLength="30" lengthAdjust="spacingAndGlyphs">VPA</text>
<polyline points="352.6,1623.5 352.6,1653.3" fill="none" stroke="#141414" stroke-width="1.3" stroke-linejoin="miter"/>
<text transform="translate(414.5,1611.5) rotate(-90)" x="0" y="0" font-size="15" text-anchor="middle" textLength="83.5" lengthAdjust="spacingAndGlyphs">ILPO,ILP2</text>
<text transform="translate(439.5,1637) rotate(-90)" x="0" y="0" font-size="15" text-anchor="middle" textLength="32.5" lengthAdjust="spacingAndGlyphs">ILP1</text>
<polyline points="621,979.2 1166.2,974 1184.8,997.5 1187,1151.4 1195.5,1155.3 1284.1,1154.5" fill="none" stroke="#141414" stroke-width="1.6" stroke-linejoin="miter"/>
<polyline points="1186.7,1161.1 1191.6,1165 1284.1,1164.1" fill="none" stroke="#141414" stroke-width="1.6" stroke-linejoin="miter"/>
<polyline points="1186.7,1161.1 1190.5,1431.7 1203.4,1440.3 1287.5,1439.5" fill="none" stroke="#141414" stroke-width="1.6" stroke-linejoin="miter"/>
<polyline points="621,988.1 752.6,986.8 763.1,997.9 772,1634 758.8,1626.3 712,1626.7" fill="none" stroke="#141414" stroke-width="1.6" stroke-linejoin="miter"/>
<polyline points="763.1,987.2 1162.3,983.4 1173.6,997.5 1179.7,1433.2 1198.7,1450.4 1287.5,1449.6" fill="none" stroke="#141414" stroke-width="1.6" stroke-linejoin="miter"/>
<polyline points="763.1,987.4 773.7,998 775.7,1140.5 783.4,1132.6 902,1131.5" fill="none" stroke="#141414" stroke-width="1.6" stroke-linejoin="miter"/>
<polyline points="1284.1,1154.3 1284.1,1144.6 1301.7,1159.7 1284.1,1174.8 1284.1,1163.7" fill="none" stroke="#141414" stroke-width="1.6" stroke-linejoin="miter"/>
<text x="1226.7" y="1147.6" font-size="15.5" text-anchor="middle" textLength="52.7" lengthAdjust="spacingAndGlyphs">A0 - A7</text>
<polyline points="1287.5,1439.5 1287.5,1425.5 1305,1442.2 1287.5,1459 1287.5,1450.1" fill="none" stroke="#141414" stroke-width="1.6" stroke-linejoin="miter"/>
<text x="1239" y="1433" font-size="15.5" text-anchor="middle" textLength="58" lengthAdjust="spacingAndGlyphs">A8 - A15</text>
<polyline points="775.3,1154.5 786.7,1142.4 902,1141.3" fill="none" stroke="#141414" stroke-width="1.6" stroke-linejoin="miter"/>
<polyline points="775.3,1154.5 782.3,1654" fill="none" stroke="#141414" stroke-width="1.6" stroke-linejoin="miter"/>
<polyline points="698,1627.3 595.6,1628.3 584.2,1639.8 584.5,1661.6" fill="none" stroke="#141414" stroke-width="1.6" stroke-linejoin="miter"/>
<polyline points="772.3,1646 759.4,1635.2 712,1635.7" fill="none" stroke="#141414" stroke-width="1.6" stroke-linejoin="miter"/>
<polyline points="772.3,1646 772.4,1655" fill="none" stroke="#141414" stroke-width="1.6" stroke-linejoin="miter"/>
<polyline points="698,1636.3 596.7,1637.3 592,1643 592.3,1661.6" fill="none" stroke="#141414" stroke-width="1.6" stroke-linejoin="miter"/>
<polyline points="584.2,1661.6 573.8,1661.6 587.8,1678.3 601.9,1661.6 592,1661.6" fill="none" stroke="#141414" stroke-width="1.6" stroke-linejoin="miter"/>
<text x="639.6" y="1620.8" font-size="15.5" text-anchor="middle" textLength="63.8" lengthAdjust="spacingAndGlyphs">A0 - A15</text>
<polyline points="773.3,1673 761.9,1673 779.5,1654 797.2,1673 783,1673" fill="none" stroke="#141414" stroke-width="1.6" stroke-linejoin="miter"/>
<polyline points="772.7,1673 772.9,1686" fill="none" stroke="#141414" stroke-width="1.6" stroke-linejoin="miter"/>
<polyline points="783.1,1673 783.3,1686" fill="none" stroke="#141414" stroke-width="1.6" stroke-linejoin="miter"/>
<polyline points="638.1,1107.5 638.1,1096.1 622,1111.9 638.1,1127.8 638.1,1115.6" fill="none" stroke="#141414" stroke-width="1.6" stroke-linejoin="miter"/>
<polyline points="638.1,1107.5 688.5,1107 703.9,1120.5 705.2,1211.4 714.8,1198.7 902,1196.9" fill="none" stroke="#141414" stroke-width="1.6" stroke-linejoin="miter"/>
<polyline points="706.1,1222.8 716.8,1209.4 902,1207.6" fill="none" stroke="#141414" stroke-width="1.6" stroke-linejoin="miter"/>
<polyline points="706.1,1222.8 709.3,1448.6 719.3,1440.3 890,1438.7" fill="none" stroke="#141414" stroke-width="1.6" stroke-linejoin="miter"/>
<polyline points="708.9,1460 711.6,1655" fill="none" stroke="#141414" stroke-width="1.6" stroke-linejoin="miter"/>
<polyline points="638.1,1115.6 684.4,1115.2 694.6,1124.5 701.1,1592" fill="none" stroke="#141414" stroke-width="1.6" stroke-linejoin="miter"/>
<polyline points="701.6,1604 702.3,1655" fill="none" stroke="#141414" stroke-width="1.6" stroke-linejoin="miter"/>
<polyline points="708.9,1460 720.3,1450.3 890,1448.7" fill="none" stroke="#141414" stroke-width="1.6" stroke-linejoin="miter"/>
<polyline points="890,1439.6 890,1425 906.5,1443 890,1461 890,1449.3" fill="none" stroke="#141414" stroke-width="1.6" stroke-linejoin="miter"/>
<text x="855.8" y="1429.3" font-size="15.5" text-anchor="middle" textLength="54.4" lengthAdjust="spacingAndGlyphs">D0-D7</text>
<text x="869" y="1191.1" font-size="15.5" text-anchor="middle" textLength="56.7" lengthAdjust="spacingAndGlyphs">D0 - D7</text>
<text x="865.2" y="1123.9" font-size="15.5" text-anchor="middle" textLength="59" lengthAdjust="spacingAndGlyphs">A0-A15</text>
<text x="669" y="1097.3" font-size="15.5" text-anchor="middle" textLength="49.6" lengthAdjust="spacingAndGlyphs">D0 - D7</text>
<polyline points="701.1,1592 691.2,1581.6 560.3,1582.8 545.7,1598.3 546.6,1661.6" fill="none" stroke="#141414" stroke-width="1.6" stroke-linejoin="miter"/>
<polyline points="701.6,1604 688.1,1591 564,1592.2 554.5,1600.3 555.4,1661.6" fill="none" stroke="#141414" stroke-width="1.6" stroke-linejoin="miter"/>
<polyline points="547.4,1661.6 536.4,1661.6 551.5,1679.3 566.5,1661.6 555.1,1661.6" fill="none" stroke="#141414" stroke-width="1.6" stroke-linejoin="miter"/>
<text x="595.4" y="1574.3" font-size="15.5" text-anchor="middle" textLength="54.4" lengthAdjust="spacingAndGlyphs">D0-D7</text>
<polyline points="702.7,1674.1 690.2,1674.1 707.9,1655.4 725.5,1674.1 712,1674.1" fill="none" stroke="#141414" stroke-width="1.6" stroke-linejoin="miter"/>
<polyline points="701.6,1674 701.8,1686.6" fill="none" stroke="#141414" stroke-width="1.6" stroke-linejoin="miter"/>
<polyline points="712,1674 712.2,1686.6" fill="none" stroke="#141414" stroke-width="1.6" stroke-linejoin="miter"/>
<path d="M340.6,1720.5 Q342.6,1728.2 348.6,1728.2 L492.3,1728.2 Q500.3,1728.2 500.3,1740.5 Q500.3,1728.2 508.3,1728.2 L621.2,1728.2 Q627.2,1728.2 629.2,1720.5" fill="none" stroke="#141414" stroke-width="1.4"/>
<text x="505.5" y="1713.4" font-size="12" text-anchor="middle" textLength="13" lengthAdjust="spacingAndGlyphs">J1</text>
<text x="464.1" y="1758.5" font-size="15.5" text-anchor="middle" textLength="97.2" lengthAdjust="spacingAndGlyphs">EXPANSION</text>
<text x="551.1" y="1758.5" font-size="15.5" text-anchor="middle" textLength="43.4" lengthAdjust="spacingAndGlyphs">PORT</text>
<path d="M671.6,1718.5 Q673.6,1725.8 679.6,1725.8 L734.1,1725.8 Q742.1,1725.8 742.1,1734.7 Q742.1,1725.8 750.1,1725.8 L809,1725.8 Q815,1725.8 817,1718.5" fill="none" stroke="#141414" stroke-width="1.4"/>
<text x="742" y="1713.1" font-size="12" text-anchor="middle" textLength="17.4" lengthAdjust="spacingAndGlyphs">J2</text>
<text x="696.2" y="1757.1" font-size="15.5" text-anchor="middle" textLength="35.4" lengthAdjust="spacingAndGlyphs">ROM</text>
<text x="765.4" y="1757.1" font-size="15.5" text-anchor="middle" textLength="92.2" lengthAdjust="spacingAndGlyphs">CARTRIDGE</text>
<polygon points="901.8,1101.8 1065.3,1100.2 1067.2,1234.3 903.7,1235.9" fill="none" stroke="#141414" stroke-width="2" stroke-linejoin="miter"/>
<text x="981" y="1146" font-size="15.5" text-anchor="middle" textLength="34" lengthAdjust="spacingAndGlyphs">ROM</text>
<text x="990.5" y="1166.3" font-size="15.5" text-anchor="middle" textLength="105" lengthAdjust="spacingAndGlyphs">(0000-C000)</text>
<text x="1016.9" y="1228.7" font-size="15.5" text-anchor="middle" textLength="79" lengthAdjust="spacingAndGlyphs">IC33, IC34</text>
<polyline points="1108.3,1350 1107.5,1292.3 983.6,1293.5 983,1250" fill="none" stroke="#141414" stroke-width="1.6" stroke-linejoin="miter"/>
<polygon points="982.6,1234.8 977.8,1249.8 987.4,1249.8" fill="#141414" stroke="#141414" stroke-width="0.8"/>
<polyline points="1103.2,1355.8 1113,1350" fill="none" stroke="#141414" stroke-width="1.3" stroke-linejoin="miter"/>
<text x="1022" y="1288.3" font-size="15.5" text-anchor="middle" textLength="61" lengthAdjust="spacingAndGlyphs">ROMOEH</text>
<polygon points="906.5,1379 1070,1377.4 1072,1517.5 908.5,1519.1" fill="none" stroke="#141414" stroke-width="2" stroke-linejoin="miter"/>
<text x="991" y="1435.1" font-size="15.5" text-anchor="middle" textLength="33" lengthAdjust="spacingAndGlyphs">BUS</text>
<text x="998.6" y="1456.6" font-size="15.5" text-anchor="middle" textLength="110" lengthAdjust="spacingAndGlyphs">TRANSCEIVER</text>
<text x="1044.4" y="1511.1" font-size="15.5" text-anchor="middle" textLength="32" lengthAdjust="spacingAndGlyphs">IC21</text>
<text x="1114" y="1419.8" font-size="15.5" text-anchor="middle" textLength="68" lengthAdjust="spacingAndGlyphs">DB0 - DB7</text>
<text x="1010" y="1550.1" font-size="15.5" text-anchor="middle" textLength="26" lengthAdjust="spacingAndGlyphs">DEC</text>
<polyline points="1088.4,1436 1088.4,1423.9 1071.2,1441.2 1088.4,1458.5 1088.4,1445.4" fill="none" stroke="#141414" stroke-width="1.6" stroke-linejoin="miter"/>
<polyline points="1088.4,1436 1119.2,1435.7 1135.6,1453.2 1136.9,1543.1 1148,1556 1670.5,1551" fill="none" stroke="#141414" stroke-width="1.6" stroke-linejoin="miter"/>
<polyline points="1088.4,1445.4 1116.1,1445.1 1125.5,1454.3 1126.8,1546.2 1146.5,1566.5 1672,1561.5" fill="none" stroke="#141414" stroke-width="1.6" stroke-linejoin="miter"/>
<path d="M1092,1508 Q1097,1504 1099,1506 Q1103,1503 1105.2,1501.8" fill="none" stroke="#141414" stroke-width="1.3"/>
<polygon points="1301.7,1095.9 1483.4,1094.2 1485.3,1227.9 1303.6,1229.6" fill="none" stroke="#141414" stroke-width="2" stroke-linejoin="miter"/>
<text x="1389.8" y="1148.7" font-size="15.5" text-anchor="middle" textLength="77" lengthAdjust="spacingAndGlyphs">ADDRESS</text>
<text x="1386.3" y="1167.2" font-size="15.5" text-anchor="middle" textLength="33.5" lengthAdjust="spacingAndGlyphs">MUX</text>
<text x="1446" y="1219.9" font-size="15.5" text-anchor="middle" textLength="33.5" lengthAdjust="spacingAndGlyphs">IC19</text>
<polygon points="1304.4,1376.4 1488.6,1374.7 1490.6,1516.9 1306.4,1518.6" fill="none" stroke="#141414" stroke-width="2" stroke-linejoin="miter"/>
<text x="1398" y="1433.3" font-size="15.5" text-anchor="middle" textLength="75.5" lengthAdjust="spacingAndGlyphs">ADDRESS</text>
<text x="1400" y="1456.3" font-size="15.5" text-anchor="middle" textLength="32.7" lengthAdjust="spacingAndGlyphs">MUX</text>
<text x="1465.9" y="1509.2" font-size="15.5" text-anchor="middle" textLength="35.8" lengthAdjust="spacingAndGlyphs">IC20</text>
<polyline points="1517.5,1114.5 1497,1114.7" fill="none" stroke="#141414" stroke-width="1.6" stroke-linejoin="miter"/>
<polygon points="1483.8,1114.5 1498.8,1110.3 1498.8,1118.7" fill="#141414" stroke="#141414" stroke-width="0.8"/>
<circle cx="1517.5" cy="1114.5" r="4.2" fill="#141414"/>
<polyline points="1552.7,1147.3 1497,1147.8" fill="none" stroke="#141414" stroke-width="1.6" stroke-linejoin="miter"/>
<polygon points="1484.3,1147.6 1499.3,1143.4 1499.3,1151.8" fill="#141414" stroke="#141414" stroke-width="0.8"/>
<circle cx="1552.7" cy="1147.3" r="4.2" fill="#141414"/>
<polyline points="1521.5,1409 1503,1409.2" fill="none" stroke="#141414" stroke-width="1.6" stroke-linejoin="miter"/>
<polygon points="1489.2,1409.2 1504.2,1405 1504.2,1413.4" fill="#141414" stroke="#141414" stroke-width="0.8"/>
<polyline points="1558.5,1450.4 1503,1450.9" fill="none" stroke="#141414" stroke-width="1.6" stroke-linejoin="miter"/>
<polygon points="1489.6,1450.5 1504.6,1446.3 1504.6,1454.7" fill="#141414" stroke="#141414" stroke-width="0.8"/>
<polyline points="1485,1197.6 1582,1196.7" fill="none" stroke="#141414" stroke-width="2.8" stroke-linejoin="miter"/>
<polygon points="1595.7,1197 1581.7,1192 1581.7,1202" fill="#141414" stroke="#141414" stroke-width="0.8"/>
<polyline points="1557.1,1206 1568.9,1187" fill="none" stroke="#141414" stroke-width="1.5" stroke-linejoin="miter"/>
<text x="1572.3" y="1191.8" font-size="15" text-anchor="middle">4</text>
<polyline points="1489.2,1484.4 1590.9,1483.4 1601.8,1474.6 1601,1414" fill="none" stroke="#141414" stroke-width="2.8" stroke-linejoin="miter"/>
<polygon points="1601.5,1399.4 1596.5,1414.4 1606.5,1414.4" fill="#141414" stroke="#141414" stroke-width="0.8"/>
<polyline points="1540.1,1493.5 1551.9,1474.5" fill="none" stroke="#141414" stroke-width="1.5" stroke-linejoin="miter"/>
<text x="1547" y="1504.2" font-size="15" text-anchor="middle">4</text>
<polyline points="1684.5,1121.3 1732.8,1120.8" fill="none" stroke="#141414" stroke-width="1.6" stroke-linejoin="miter"/>
<polyline points="1606.6,1132.2 1674.4,1131.6" fill="none" stroke="#141414" stroke-width="1.6" stroke-linejoin="miter"/>
<polyline points="1684.5,1131 1732.8,1130.5" fill="none" stroke="#141414" stroke-width="1.6" stroke-linejoin="miter"/>
<polyline points="1606.6,1132.2 1610.2,1388.6 1678.8,1387.9" fill="none" stroke="#141414" stroke-width="1.6" stroke-linejoin="miter"/>
<polyline points="1689.6,1388.3 1737.3,1387.8" fill="none" stroke="#141414" stroke-width="1.6" stroke-linejoin="miter"/>
<polyline points="1689.6,1396.4 1737.3,1395.9" fill="none" stroke="#141414" stroke-width="1.6" stroke-linejoin="miter"/>
<polyline points="1732.8,1121.2 1732.8,1110.6 1750,1125.4 1732.8,1140.3 1732.8,1130.9" fill="none" stroke="#141414" stroke-width="1.6" stroke-linejoin="miter"/>
<polyline points="1737.3,1388 1737.3,1377 1752.9,1393 1737.3,1409.1 1737.3,1396" fill="none" stroke="#141414" stroke-width="1.6" stroke-linejoin="miter"/>
<polyline points="1671.4,955.5 1679.6,1537.7 1670,1551.3" fill="none" stroke="#141414" stroke-width="1.6" stroke-linejoin="miter"/>
<polyline points="1682.4,954.5 1685.8,1195.6 1696.2,1187.8 1733.6,1187.4" fill="none" stroke="#141414" stroke-width="1.6" stroke-linejoin="miter"/>
<polyline points="1684.5,1208.8 1697,1199.2 1733.6,1198.9" fill="none" stroke="#141414" stroke-width="1.6" stroke-linejoin="miter"/>
<polyline points="1684.5,1208.8 1688,1461.7 1696.4,1457.8 1738.3,1457.4" fill="none" stroke="#141414" stroke-width="1.6" stroke-linejoin="miter"/>
<polyline points="1690.1,1475.3 1698.7,1465.6 1738.3,1465.2" fill="none" stroke="#141414" stroke-width="1.6" stroke-linejoin="miter"/>
<polyline points="1690.1,1475.3 1691,1541.6 1672,1562 1672,1562" fill="none" stroke="#141414" stroke-width="1.6" stroke-linejoin="miter"/>
<polyline points="1733.6,1187.5 1733.6,1180 1750.8,1194 1733.6,1208 1733.6,1198.5" fill="none" stroke="#141414" stroke-width="1.6" stroke-linejoin="miter"/>
<polyline points="1738.3,1457.2 1738.3,1444.2 1754.8,1461.2 1738.3,1478.3 1738.3,1465" fill="none" stroke="#141414" stroke-width="1.6" stroke-linejoin="miter"/>
<polyline points="1682.4,954.5 1848.8,952.9" fill="none" stroke="#141414" stroke-width="1.6" stroke-linejoin="miter"/>
<polygon points="1749.8,1090.5 1947.3,1088.6 1949.2,1223.5 1751.7,1225.4" fill="none" stroke="#141414" stroke-width="2" stroke-linejoin="miter"/>
<text x="1845.6" y="1138.3" font-size="15.5" text-anchor="middle" textLength="36" lengthAdjust="spacingAndGlyphs">RAM</text>
<text x="1847.6" y="1161.3" font-size="15.5" text-anchor="middle" textLength="139.4" lengthAdjust="spacingAndGlyphs">(10000-1FFFF)</text>
<text x="1910.7" y="1216.3" font-size="15.5" text-anchor="middle" textLength="61.5" lengthAdjust="spacingAndGlyphs">IC1-IC8</text>
<text x="1718.4" y="1092.5" font-size="15.5" text-anchor="middle" textLength="43" lengthAdjust="spacingAndGlyphs">DA0-</text>
<text x="1712.6" y="1108.3" font-size="15.5" text-anchor="middle" textLength="31.2" lengthAdjust="spacingAndGlyphs">DA7</text>
<text x="1719.7" y="1159.7" font-size="15.5" text-anchor="middle" textLength="37.1" lengthAdjust="spacingAndGlyphs">DB0-</text>
<text x="1715.3" y="1176.8" font-size="15.5" text-anchor="middle" textLength="28.6" lengthAdjust="spacingAndGlyphs">DB7</text>
<text x="1988" y="1105.9" font-size="15.5" text-anchor="middle" textLength="24" lengthAdjust="spacingAndGlyphs">WE</text>
<polyline points="1975.8,1090 2000,1090" fill="none" stroke="#141414" stroke-width="1.3" stroke-linejoin="miter"/>
<text x="1997.7" y="1142.1" font-size="15.5" text-anchor="middle" textLength="42.5" lengthAdjust="spacingAndGlyphs">RASL</text>
<text x="2003.8" y="1183" font-size="15.5" text-anchor="middle" textLength="54.5" lengthAdjust="spacingAndGlyphs">CASOL</text>
<polygon points="1752.6,1346.5 1953.2,1344.6 1955.1,1481.5 1754.5,1483.4" fill="none" stroke="#141414" stroke-width="2" stroke-linejoin="miter"/>
<text x="1847.6" y="1395.3" font-size="15.5" text-anchor="middle" textLength="38" lengthAdjust="spacingAndGlyphs">RAM</text>
<text x="1848" y="1418.8" font-size="15.5" text-anchor="middle" textLength="144" lengthAdjust="spacingAndGlyphs">(20000-2FFFF)</text>
<text x="1911.3" y="1473.3" font-size="15.5" text-anchor="middle" textLength="70.6" lengthAdjust="spacingAndGlyphs">IC9-IC16</text>
<text x="1715.5" y="1358.2" font-size="15.5" text-anchor="middle" textLength="41.5" lengthAdjust="spacingAndGlyphs">DA0-</text>
<text x="1710" y="1374.3" font-size="15.5" text-anchor="middle" textLength="30.4" lengthAdjust="spacingAndGlyphs">DA7</text>
<text x="1716.3" y="1430.6" font-size="15.5" text-anchor="middle" textLength="40" lengthAdjust="spacingAndGlyphs">DB0-</text>
<text x="1710.8" y="1445.6" font-size="15.5" text-anchor="middle" textLength="28.8" lengthAdjust="spacingAndGlyphs">DB7</text>
<text x="2006.9" y="1374" font-size="15.5" text-anchor="middle" textLength="54.3" lengthAdjust="spacingAndGlyphs">CAS1L</text>
<text x="2002.7" y="1410.6" font-size="15.5" text-anchor="middle" textLength="44.6" lengthAdjust="spacingAndGlyphs">RASL</text>
<text x="1995.5" y="1447.6" font-size="15.5" text-anchor="middle" textLength="26" lengthAdjust="spacingAndGlyphs">WE</text>
<polyline points="1982.4,1433.7 2008.5,1433.7" fill="none" stroke="#141414" stroke-width="1.3" stroke-linejoin="miter"/>
<text x="2236.3" y="1711.4" font-size="32.5" text-anchor="middle" style="font-family:&quot;Liberation Mono&quot;,monospace" textLength="249.7" lengthAdjust="spacingAndGlyphs" font-weight="bold">QL BLOCK DIAGRAM</text>
<circle cx="2027" cy="19.5" r="1" fill="#141414"/>
</svg>
</body></html>
